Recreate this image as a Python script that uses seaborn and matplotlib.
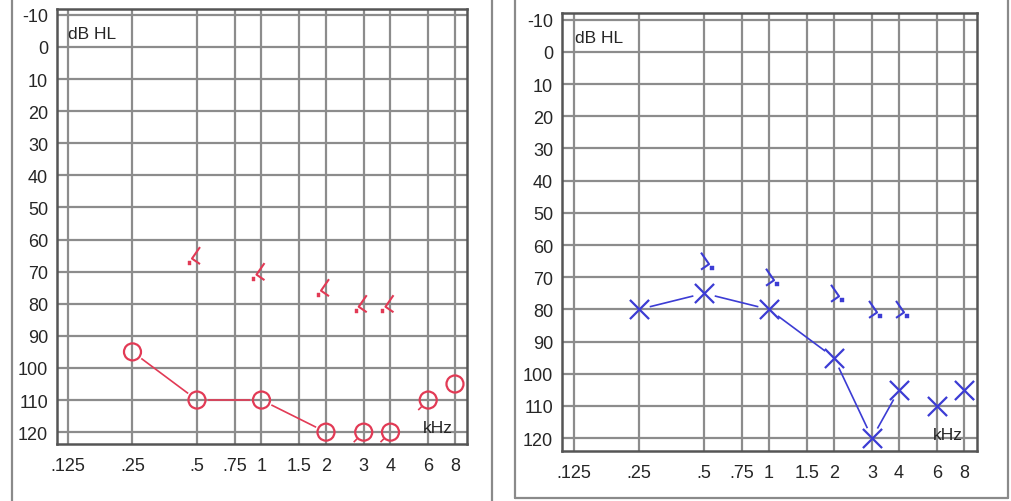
import matplotlib
matplotlib.use("Agg")
import matplotlib.pyplot as plt
from matplotlib.path import Path
from matplotlib.lines import Line2D
import seaborn as sns
import pandas as pd
import numpy as np

# ---------------- data ----------------
freqs = [0.25, 0.5, 1, 2, 3, 4, 6, 8]
right_ac = [95, 110, 110, 120, 120, 120, 110, 105]   # red circles (right ear)
left_ac = [80, 75, 80, 95, 120, 105, 110, 105]       # blue crosses (left ear)
right_linked = 4      # number of leading points joined by the line
left_linked = 6
right_nr_freqs = [3, 4, 6]   # no-response flags
left_nr_freqs = [8]

bc_freqs = [0.5, 1, 2, 3, 4]
right_bc = [65, 70, 75, 80, 80]
left_bc = [65, 70, 75, 80, 80]

tick_freqs = [0.125, 0.25, 0.5, 0.75, 1, 1.5, 2, 3, 4, 6, 8]
tick_labels = [".125", ".25", ".5", ".75", "1", "1.5", "2", "3", "4", "6", "8"]
db_ticks = list(range(-10, 130, 10))

RED = "#e23a55"
BLUE = "#3c3cd4"
GRID = "#8c8c8c"
TEXT = "#262626"

sns.set_theme(style="white")
plt.rcParams["font.family"] = ["Liberation Sans", "DejaVu Sans"]


def px_marker(segments, closed=False):
    verts, codes = [], []
    for seg in segments:
        for i, v in enumerate(seg):
            verts.append(v)
            codes.append(Path.MOVETO if i == 0 else Path.LINETO)
        if closed:
            verts.append(seg[0])
            codes.append(Path.CLOSEPOLY)
    m = max(max(abs(a), abs(b)) for a, b in verts)
    size_pt = 2 * m * 0.72
    return Path(verts, codes), size_pt


def mirror(segments):
    return [[(-x, y) for x, y in s] for s in segments]


def gapped_line(ax, xs, ys, gap_px, **kw):
    """Join consecutive points, leaving a gap of gap_px around each marker."""
    pts = ax.transData.transform(np.column_stack([xs, ys]))
    inv = ax.transData.inverted()
    for p0, p1 in zip(pts[:-1], pts[1:]):
        d = p1 - p0
        u = d / np.hypot(*d)
        a, b = inv.transform(np.array([p0 + u * gap_px, p1 - u * gap_px]))
        ax.plot([a[0], b[0]], [a[1], b[1]], **kw)


bc_arms = [[(3, 8.5), (-5, -3), (3, -8.5)]]
bc_dot = [[(-9.5, -9), (-5.8, -9), (-5.8, -5.3), (-9.5, -5.3)]]
nr_arrow = [[(-6.5, -6.5), (-10, -10)]]

fig = plt.figure(figsize=(10.11, 5.02), dpi=100)

panels = [
    dict(rect=[0.0564, 0.1135, 0.4055, 0.8665], xlim=(2 ** -3.17, 2 ** 3.186),
         ylim=(123.7, -11.8), ac=right_ac, linked=right_linked, color=RED,
         marker="o", bc=right_bc, mir=False, nr=right_nr_freqs,
         dbhl=(0.027, 0.962), khz=(0.928, 0.038)),
    dict(rect=[0.5559, 0.0996, 0.4105, 0.8725], xlim=(2 ** -3.185, 2 ** 3.2),
         ylim=(124.0, -12.1), ac=left_ac, linked=left_linked, color=BLUE,
         marker="x", bc=left_bc, mir=True, nr=left_nr_freqs,
         dbhl=(0.031, 0.962), khz=(0.929, 0.037)),
]

for p in panels:
    ax = fig.add_axes(p["rect"])
    ax.set_xscale("log", base=2)
    ax.set_xlim(*p["xlim"])
    ax.set_ylim(*p["ylim"])

    col = p["color"]
    df = pd.DataFrame({"f": freqs, "db": p["ac"]})
    linked = df.iloc[:p["linked"]]

    # connecting line with gaps around the symbols
    gapped_line(ax, linked["f"].values, linked["db"].values, 11,
                color=col, linewidth=1.2, zorder=2.6, solid_capstyle="butt")

    # air-conduction symbols
    if p["marker"] == "o":
        sns.scatterplot(data=df, x="f", y="db", ax=ax, marker="o", s=150,
                        color=col, linewidth=1.6, zorder=3, legend=False)
        c = ax.collections[-1]
        c.set_facecolor("none")
        c.set_edgecolor(col)
    else:
        sns.scatterplot(data=df, x="f", y="db", ax=ax, marker="x", s=190,
                        color=col, linewidth=1.6, zorder=3, legend=False)

    # no-response flags
    arr = mirror(nr_arrow) if p["mir"] else nr_arrow
    arr_path, arr_size = px_marker(arr)
    nr_df = df[df["f"].isin(p["nr"])]
    ax.scatter(nr_df["f"], nr_df["db"], marker=arr_path, s=arr_size ** 2,
               facecolor="none", edgecolor=col, linewidth=1.2, zorder=3,
               clip_on=False)

    # bone-conduction symbols
    arms = mirror(bc_arms) if p["mir"] else bc_arms
    dot = mirror(bc_dot) if p["mir"] else bc_dot
    arm_path, arm_size = px_marker(arms)
    dot_path, dot_size = px_marker(dot, closed=True)
    bdf = pd.DataFrame({"f": bc_freqs, "db": p["bc"]})
    ax.scatter(bdf["f"], bdf["db"], marker=arm_path, s=arm_size ** 2,
               facecolor="none", edgecolor=col, linewidth=1.5, zorder=3)
    ax.scatter(bdf["f"], bdf["db"], marker=dot_path, s=dot_size ** 2,
               facecolor=col, edgecolor=col, linewidth=0.3, zorder=3)

    ax.set_xscale("log", base=2)
    ax.set_xlim(*p["xlim"])
    ax.set_ylim(*p["ylim"])
    ax.set_xticks(tick_freqs)
    ax.set_xticklabels(tick_labels)
    ax.minorticks_off()
    ax.set_yticks(db_ticks)
    ax.set_yticklabels([str(v) for v in db_ticks])
    ax.grid(True, color=GRID, linewidth=1.6)
    ax.set_axisbelow(True)
    ax.tick_params(axis="both", length=0, labelsize=13, labelcolor=TEXT)
    ax.tick_params(axis="y", pad=6.5)
    ax.tick_params(axis="x", pad=9)
    for s in ax.spines.values():
        s.set_color("#555555")
        s.set_linewidth(1.8)
        s.set_zorder(4)
    ax.set_xlabel("")
    ax.set_ylabel("")

    ax.text(p["dbhl"][0], p["dbhl"][1], "dB HL", transform=ax.transAxes,
            ha="left", va="top", fontsize=12.5, color=TEXT, zorder=5)
    ax.text(p["khz"][0], p["khz"][1], "kHz", transform=ax.transAxes,
            ha="center", va="center", fontsize=12.5, color=TEXT, zorder=5)

# outer panel frames (figure-pixel positions)
W, H = 1011.0, 502.0
FRAME = "#8a8a8a"


def vline(x, y0, y1):
    fig.add_artist(Line2D([x / W, x / W], [1 - y0 / H, 1 - y1 / H],
                          color=FRAME, linewidth=1.6))


def hline(y, x0, x1):
    fig.add_artist(Line2D([x0 / W, x1 / W], [1 - y / H, 1 - y / H],
                          color=FRAME, linewidth=1.6))


vline(12, 0, 502)
vline(492, 0, 502)
vline(515, 0, 499)
vline(1008, 0, 499)
hline(499, 515, 1008)

fig.savefig("out.png", dpi=100)
